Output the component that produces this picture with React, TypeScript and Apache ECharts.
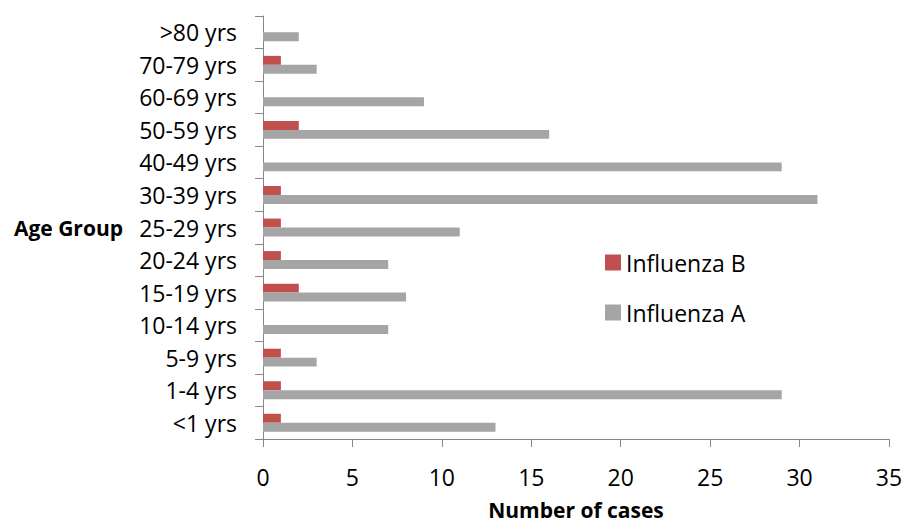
import React, { useEffect, useRef } from "react";
import * as echarts from "echarts";

const categories = [
  "<1 yrs",
  "1-4 yrs",
  "5-9 yrs",
  "10-14 yrs",
  "15-19 yrs",
  "20-24 yrs",
  "25-29 yrs",
  "30-39 yrs",
  "40-49 yrs",
  "50-59 yrs",
  "60-69 yrs",
  "70-79 yrs",
  ">80 yrs",
];
const influenzaA = [13, 29, 3, 7, 8, 7, 11, 31, 29, 16, 9, 3, 2];
const influenzaB = [1, 1, 1, 0, 2, 1, 1, 1, 0, 2, 0, 1, 0];
const seriesNames = ["Influenza B", "Influenza A"];
const xTitle = "Number of cases";
const yTitle = "Age Group";

const FONT = "'Open Sans', sans-serif";
const AXIS_COLOR = "#868686";

export default function App() {
  const ref = useRef<HTMLDivElement>(null);
  useEffect(() => {
    if (!ref.current) return;
    const chart = echarts.init(ref.current, undefined, { renderer: "svg" });
    chart.setOption({
      animation: false,
      backgroundColor: "#ffffff",
      textStyle: { fontFamily: FONT },
      grid: {
        left: 263,
        right: 14,
        top: 16,
        bottom: 84,
        containLabel: false,
        outerBoundsMode: "none",
      },
      legend: {
        data: seriesNames,
        orient: "vertical",
        left: 600,
        top: 246,
        padding: 5,
        itemWidth: 16,
        itemHeight: 16,
        itemGap: 27,
        icon: "rect",
        textStyle: { fontFamily: FONT, fontSize: 23, color: "#000" },
      },
      xAxis: {
        type: "value",
        min: 0,
        max: 35,
        interval: 5,
        name: xTitle,
        nameLocation: "middle",
        nameGap: 60,
        nameTextStyle: { fontFamily: FONT, fontSize: 21, fontWeight: "bold", color: "#000" },
        axisLine: { show: true, lineStyle: { color: AXIS_COLOR, width: 1 } },
        axisTick: { show: true, length: 8, lineStyle: { color: AXIS_COLOR } },
        axisLabel: { fontFamily: FONT, fontSize: 23, color: "#000", margin: 26 },
        splitLine: { show: false },
      },
      yAxis: {
        type: "category",
        data: categories,
        name: yTitle,
        nameLocation: "middle",
        nameRotate: 0,
        nameGap: 140,
        nameTextStyle: { fontFamily: FONT, fontSize: 21, fontWeight: "bold", color: "#000" },
        axisLine: { show: true, lineStyle: { color: AXIS_COLOR, width: 1 } },
        axisTick: { show: true, length: 8, lineStyle: { color: AXIS_COLOR } },
        axisLabel: { fontFamily: FONT, fontSize: 23, color: "#000", margin: 26 },
        splitLine: { show: false },
      },
      series: [
        {
          name: seriesNames[0],
          type: "bar",
          data: influenzaB,
          itemStyle: { color: "#C0504D" },
          barGap: "0%",
          barCategoryGap: "45%",
        },
        {
          name: seriesNames[1],
          type: "bar",
          data: influenzaA,
          itemStyle: { color: "#A5A5A5" },
          barGap: "0%",
          barCategoryGap: "45%",
        },
      ],
    });
    return () => chart.dispose();
  }, []);
  return (
    <div
      ref={ref}
      style={{ position: "absolute", left: 0, top: 0, width: 903, height: 523 }}
    />
  );
}
